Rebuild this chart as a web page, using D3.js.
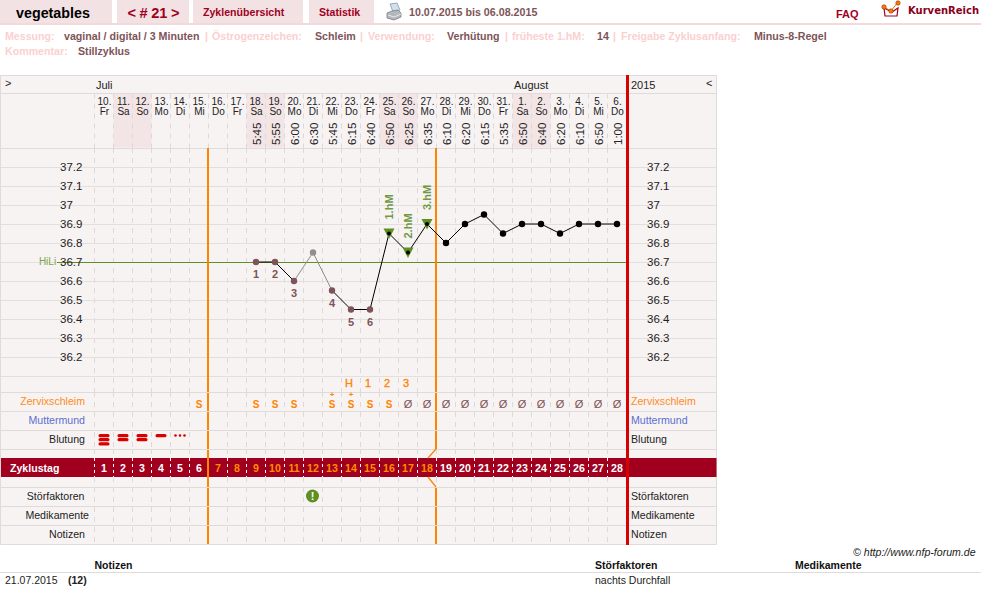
<!DOCTYPE html>
<html><head><meta charset="utf-8">
<script src="https://cdn.jsdelivr.net/npm/d3@7"></script>
<style>
html,body{margin:0;padding:0;background:#fff}
svg{display:block}
text{font-family:"Liberation Sans",Arial,sans-serif}
</style></head><body>
<svg id="c" width="981" height="604"></svg>
<script>
// Cycle sheet data
const dayNumbers = [10,11,12,13,14,15,16,17,18,19,20,21,22,23,24,25,26,27,28,29,30,31,1,2,3,4,5,6];
const weekdays = ["Fr","Sa","So","Mo","Di","Mi","Do","Fr","Sa","So","Mo","Di","Mi","Do","Fr","Sa","So","Mo","Di","Mi","Do","Fr","Sa","So","Mo","Di","Mi","Do"];
const times = ["","","","","","","","","5:45","5:55","6:00","6:30","5:45","6:15","6:40","6:50","6:25","6:35","6:10","6:20","6:15","5:35","6:50","6:40","6:20","6:10","6:50","1:00"];
const temps = [null,null,null,null,null,null,null,null,36.7,36.7,36.6,36.75,36.55,36.45,36.45,36.85,36.75,36.9,36.8,36.9,36.95,36.85,36.9,36.9,36.85,36.9,36.9,36.9];
const excludedDays = [12];
const weekendStarts = [2,9,16,23];
const lowCount = {9:"1",10:"2",11:"3",13:"4",14:"5",15:"6"};
const peakLabels = {16:"1.hM",17:"2.hM",18:"3.hM"};
const tempTicks = [37.2,37.1,37,36.9,36.8,36.7,36.6,36.5,36.4,36.3,36.2];
const mucusMarks = [[6,"S"],[9,"S"],[10,"S"],[11,"S"],[13,"S+"],[14,"S+"],[15,"S"],[16,"S"],[17,"Ø"],[18,"Ø"],[19,"Ø"],[20,"Ø"],[21,"Ø"],[22,"Ø"],[23,"Ø"],[24,"Ø"],[25,"Ø"],[26,"Ø"],[27,"Ø"],[28,"Ø"]];
const peakCount = [[14,"H"],[15,"1"],[16,"2"],[17,"3"]];
const bleedingBars = [[1,3],[2,2],[3,2],[4,1]];
const rowLabels = [["Zervixschleim","#ff8c1a"],["Muttermund","#5a6fd0"],["Blutung","#222"]];
const lowerLabels = [["Störfaktoren",84.5],["Medikamente",89],["Notizen",85]];
const metaRow1 = [["Messung:",5,1],["vaginal / digital / 3 Minuten",64,0],["|",205,1],["Östrogenzeichen:",212,1],["Schleim",315,0],["|",360,1],["Verwendung:",368,1],["Verhütung",447,0],["|",505,1],["früheste 1.hM:",512,1],["14",597,0],["|",613,1],["Freigabe Zyklusanfang:",621,1],["Minus-8-Regel",754,0]];

const svg = d3.select("#c");
const days = d3.range(1,29);
const x = d3.scaleBand().domain(days).range([94.5,626.5]);
const cx = d => x(d)+x.bandwidth()/2;
const y = d3.scaleLinear().domain([36.2,37.2]).range([357,167]);
const grid="#dedbda", panel="#f8f3f3", maroon="#a0001e", dusk="#7d5458", pale="#fbd0d0", red="#d90000", orange="#ff8400", green="#5d8f23";

const rect=(g,a,b,w,h,f)=>g.append("rect").attr("x",a).attr("y",b).attr("width",w).attr("height",h).attr("fill",f);
const line=(g,a,b,c,d,s,w=1,dash)=>g.append("line").attr("x1",a).attr("y1",b).attr("x2",c).attr("y2",d).attr("stroke",s).attr("stroke-width",w).attr("stroke-dasharray",dash||null);
const txt=(g,t,a,b,o={})=>g.append("text").attr("x",a).attr("y",b).text(t).attr("font-size",o.size||11).attr("fill",o.fill||"#222").attr("font-weight",o.weight||null).attr("text-anchor",o.anchor||"start").attr("font-style",o.style||null);

// Top navigation
const nav=svg.append("g");
rect(nav,0,0,112,23,"#f3e2e3");rect(nav,117,0,72,23,"#f3e2e3");rect(nav,193,0,110,23,"#f3e2e3");rect(nav,309,0,65,23,"#f3e2e3");
rect(nav,0,23,981,2,"#f3d9da");
txt(nav,"vegetables",16,18,{size:14.3,weight:"bold",fill:"#000"});
txt(nav,"< # 21 >",153.5,18,{size:14.6,weight:"bold",fill:maroon,anchor:"middle"}).attr("word-spacing",-0.5);
txt(nav,"Zyklenübersicht",203,16,{size:10.6,weight:"bold",fill:maroon});
txt(nav,"Statistik",319,16,{size:10.6,weight:"bold",fill:maroon});
txt(nav,"10.07.2015 bis 06.08.2015",409,16,{size:10.7,weight:"bold",fill:dusk});
txt(nav,"FAQ",836,18,{weight:"bold",fill:maroon});
txt(nav,"KurvenReich",908,14,{weight:"bold",fill:"#8a0020"}).attr("style","font-family:'DejaVu Sans'").attr("font-size",10);
// printer glyph
const pr=nav.append("g");
pr.append("path").attr("d","M390 4l7-1 3 7-7 2z").attr("fill","#cfe0ee").attr("stroke","#8a98a6").attr("stroke-width",.8);
pr.append("path").attr("d","M387 13l5-2 6-1 3 3v4l-7 3-7-2z").attr("fill","#b4b8bc").attr("stroke","#7a7e82").attr("stroke-width",.8);
pr.append("path").attr("d","M388 15l6 2 7-3").attr("fill","none").attr("stroke","#e4e6e8").attr("stroke-width",1);
// logo glyph
const lg=nav.append("g");
lg.append("path").attr("d","M884 8l1 8h12l1-8-6 4z").attr("fill","#fff").attr("stroke",maroon).attr("stroke-width",1.2);
lg.append("path").attr("d","M884 7l7 4 7-9").attr("fill","none").attr("stroke","#d98000").attr("stroke-width",1);
[[884,7],[891,11],[898,3]].forEach(p=>lg.append("circle").attr("cx",p[0]).attr("cy",p[1]).attr("r",2.2).attr("fill","#f08000").attr("stroke","#b02010").attr("stroke-width",.6));

// Cycle settings
const meta=svg.append("g");
metaRow1.forEach(m=>txt(meta,m[0],m[1],40,{weight:"bold",fill:m[2]?pale:dusk,size:10.65}));
txt(meta,"Kommentar:",5,55,{weight:"bold",fill:pale,size:10.65});
txt(meta,"Stillzyklus",78,55,{weight:"bold",fill:dusk,size:10.65});

// Sheet background and frame
const t=svg.append("g");
rect(t,0.5,75.5,716,469,panel);
weekendStarts.forEach(d=>rect(t,x(d),93.5,38,54,"#f3e5e5"));

// Vertical day separators
const dashSpans=[[93.5,148],[148,392],[392,449],[449,458],[477,487],[487,544]];
days.forEach(d=>{
  dashSpans.forEach(s=>line(t,x(d),s[0],x(d),s[1],"#dcd9d8",1,"5,5"));
});
// Horizontal rules
d3.range(148,392,19).slice(1).forEach(v=>line(t,0,v+.5,716,v+.5,"#e3dfde",1));
[75,93,148,392,411,430,449,487,506,525,544].forEach(v=>line(t,0.5,v+.5,716.5,v+.5,grid));
line(t,0.5,75,0.5,544.5,grid);line(t,716.5,75,716.5,544.5,grid);

// Header text
txt(t,">",5,87);
txt(t,"Juli",96,89);txt(t,"August",514,89);txt(t,"2015",631,89);txt(t,"<",706,87);
const hdr=t.append("g");
days.forEach((d,i)=>{
  txt(hdr,dayNumbers[i]+".",cx(d)+.5,105,{size:10,anchor:"middle"});
  txt(hdr,weekdays[i],cx(d)+.5,115,{size:10,anchor:"middle"});
  if(times[i]) txt(hdr,times[i],0,0,{size:11.5}).attr("transform",`translate(${cx(d)+4.5},145) rotate(-90)`);
});

// Temperature axes
const axisL=d3.axisRight(y).tickValues(tempTicks).tickSize(0).tickPadding(0).tickFormat(d=>String(d));
const aL=t.append("g").attr("transform","translate(60,0)");
const aR=t.append("g").attr("transform","translate(647,0)");
txt(t,"HiLi",47.5,265,{size:10,fill:"#7aa548",anchor:"middle"});
line(t,57,y(36.7)+.5,626,y(36.7)+.5,green,1);
[aL,aR].forEach(a=>{a.call(axisL);a.raise();a.select(".domain").remove();a.selectAll("text").attr("font-size",11.5).attr("fill","#222").attr("font-family","Liberation Sans").attr("x",0)});

// Symptom rows
rowLabels.forEach((r,i)=>{
  txt(t,r[0],85,405+19*i,{anchor:"end",fill:r[1],size:10.6});
  txt(t,r[0],631,405+19*i,{fill:r[1],size:10.6});
});
lowerLabels.forEach((r,i)=>{
  txt(t,r[0],r[1],500+19*i,{anchor:"end",size:10.6});
  txt(t,r[0],631,500+19*i,{size:10.6});
});

// Mucus symbols; a plus sits just above its S
mucusMarks.forEach(([d,s])=>{
  if(s==="Ø") { txt(t,"Ø",cx(d),408,{size:11,anchor:"middle",fill:dusk}); return; }
  txt(t,"S",cx(d),408,{size:10,weight:"bold",fill:orange,anchor:"middle"});
  if(s==="S+") txt(t,"+",cx(d),397,{size:8,weight:"bold",fill:orange,anchor:"middle"});
});
peakCount.forEach(([d,s])=>txt(t,s,cx(d)-2,387,{size:11,fill:orange,anchor:"middle"}).attr("stroke",orange).attr("stroke-width",.35));

// Bleeding strength
const barRows=[434,438,442.3];
bleedingBars.forEach(([d,n])=>{
  barRows.slice(0,n).forEach(v=>t.append("rect").attr("x",cx(d)-5.5).attr("y",v).attr("width",11).attr("height",3.2).attr("rx",1.5).attr("fill",red));
});
[-4.5,0,4.5].forEach(o=>t.append("circle").attr("cx",cx(5)+o).attr("cy",435.5).attr("r",1.3).attr("fill",red));

// Cycle-day band
rect(t,1,458,715.5,19,maroon);
txt(t,"Zyklustag",10,472,{size:10.6,weight:"bold",fill:"#fff"});
days.forEach(d=>{
  line(t,x(d),458,x(d),477,"#fff",1,"3,3");
  txt(t,d,cx(d),472,{size:10.6,weight:"bold",anchor:"middle",fill:d>=7&&d<=18?"#ff8c00":"#fff"});
});

// Disturbance marker
t.append("circle").attr("cx",cx(12)-.5).attr("cy",496).attr("r",6.5).attr("fill",green);
txt(t,"!",cx(12)-.5,500,{size:11,weight:"bold",fill:"#fff",anchor:"middle"});

// Phase boundaries
const phaseA=x(7)-.5, phaseB=x(19)-.5;
[[148,392],[393,411],[412,430],[431,449],[450,458],[458,477],[477,487],[488,506],[507,525],[526,544]].forEach(s=>{
  line(t,phaseA,s[0],phaseA,s[1],orange,2);
});
[[148,392],[393,411],[412,430],[431,449],[488,506],[507,525],[526,544]].forEach(s=>line(t,phaseB,s[0],phaseB,s[1],orange,2));
t.append("path").attr("d",`M${phaseB} 449L${phaseB-8} 458M${phaseB-8} 477L${phaseB} 487`).attr("stroke",orange).attr("stroke-width",1.3).attr("fill","none");
rect(t,626,75,3,470,red);

// Temperature curve
const pts=days.map((d,i)=>({d,v:temps[i]})).filter(p=>p.v!=null);
const lineGen=d3.line().x(p=>cx(p.d)).y(p=>y(p.v));
const chart=t.append("g");
// segments touching an excluded day are lighter
d3.pairs(pts).forEach(([a,b])=>{
  const ex=excludedDays.includes(a.d)||excludedDays.includes(b.d);
  chart.append("path").attr("d",lineGen([a,b])).attr("fill","none").attr("stroke",ex?"#8c8a8a":"#000").attr("stroke-width",1);
});
pts.forEach(p=>{
  if(peakLabels[p.d]) {
    const a=cx(p.d), b=y(p.v);
    chart.append("path").attr("d",d3.line()([[a-5.5,b-5],[a+5.5,b-5],[a,b+5.5]])+"Z").attr("fill",green);
    txt(chart,peakLabels[p.d],0,0,{size:11,weight:"bold",fill:"#6f9a45"}).attr("transform",`translate(${a+4},${b-14}) rotate(-90)`);
    chart.append("circle").attr("cx",a).attr("cy",b).attr("r",2).attr("fill","#000");
  } else {
    const col=excludedDays.includes(p.d)?"#8f8f8f":(p.d<=15?dusk:"#000");
    chart.append("circle").attr("cx",cx(p.d)).attr("cy",y(p.v)).attr("r",3.2).attr("fill",col);
  }
  if(lowCount[p.d]) txt(chart,lowCount[p.d],cx(p.d),y(p.v)+16,{size:11,weight:"bold",fill:dusk,anchor:"middle"});
});

// Notes below the sheet
const foot=svg.append("g");
txt(foot,"© http://www.nfp-forum.de",853,556,{size:10.6,style:"italic"});
txt(foot,"Notizen",94.5,569,{size:10.5,weight:"bold",fill:"#111"});
txt(foot,"Störfaktoren",595,569,{size:10.5,weight:"bold",fill:"#111"});
txt(foot,"Medikamente",795,569,{size:10.5,weight:"bold",fill:"#111"});
line(foot,0,572.5,981,572.5,"#dedbda");
txt(foot,"21.07.2015",5,584,{size:10.5});
txt(foot,"(12)",68,584,{size:10.5,weight:"bold"});
txt(foot,"nachts Durchfall",595,584,{size:10.5});
</script>
</body></html>
